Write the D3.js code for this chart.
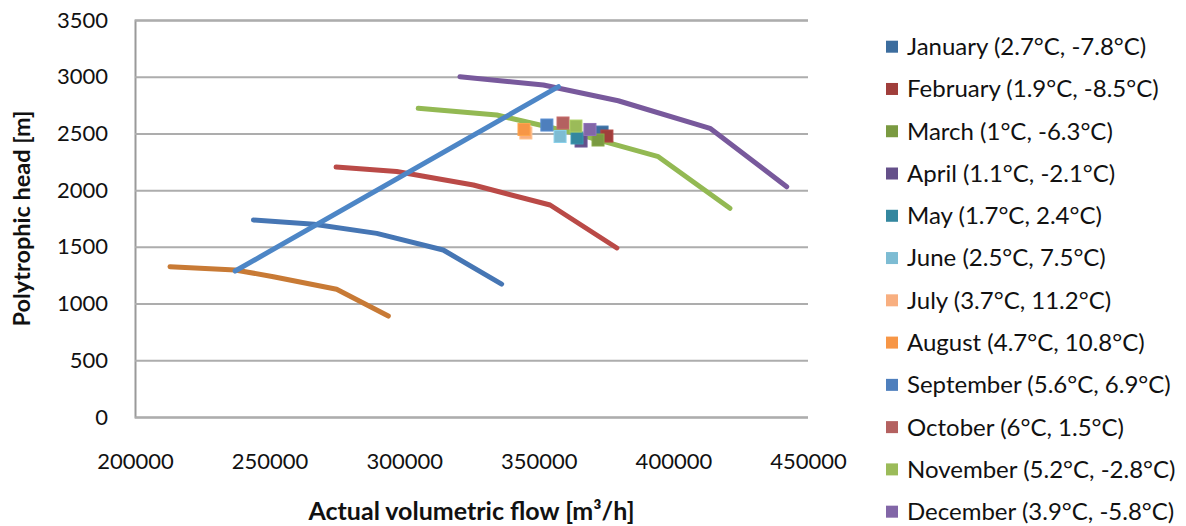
<!DOCTYPE html>
<html>
<head>
<meta charset="utf-8">
<script src="https://cdn.jsdelivr.net/npm/d3@7"></script>
<style>
  html, body { margin: 0; padding: 0; background: #fff; }
  svg { display: block; font-family: Lato, "Open Sans", sans-serif; }
</style>
</head>
<body>
<svg id="chart" width="1186" height="526"></svg>
<script>
// Monthly operating points (legend labels show ambient temperatures)
const monthLabels = [
  "January (2.7°C, -7.8°C)", "February (1.9°C, -8.5°C)", "March (1°C, -6.3°C)",
  "April (1.1°C, -2.1°C)", "May (1.7°C, 2.4°C)", "June (2.5°C, 7.5°C)",
  "July (3.7°C, 11.2°C)", "August (4.7°C, 10.8°C)", "September (5.6°C, 6.9°C)",
  "October (6°C, 1.5°C)", "November (5.2°C, -2.8°C)", "December (3.9°C, -5.8°C)"
];
const monthFlow = [373500, 375300, 372000, 365700, 364200, 357900, 345200, 344500, 353000, 359000, 363800, 369000];
const monthHead = [2512, 2477, 2442, 2433, 2460, 2473, 2504, 2535, 2574, 2592, 2565, 2535];

// Compressor characteristic curves (flow in m3/h, head in m)
const curveOrangeFlow = [213000, 237200, 251400, 274900, 294100];
const curveOrangeHead = [1325, 1296, 1237, 1126, 890];
const curveBlueFlow = [244000, 266500, 289800, 314500, 336200];
const curveBlueHead = [1737, 1700, 1619, 1472, 1172];
const curveRedFlow = [274700, 297200, 325700, 354200, 379000];
const curveRedHead = [2204, 2164, 2045, 1869, 1490];
const curveGreenFlow = [305200, 334400, 362000, 394400, 421000];
const curveGreenHead = [2721, 2662, 2510, 2295, 1840];
const curvePurpleFlow = [320700, 351700, 379500, 413600, 442100];
const curvePurpleHead = [3000, 2927, 2788, 2545, 2030];
// Surge line
const surgeFlow = [237200, 357300];
const surgeHead = [1287, 2912];

const xTicks = [200000, 250000, 300000, 350000, 400000, 450000];
const yTicks = [0, 500, 1000, 1500, 2000, 2500, 3000, 3500];

const xTitle = "Actual volumetric flow [m³/h]";
const yTitle = "Polytrophic head [m]";

// Styling
const monthColors = ["#3C6D9E", "#A03E3B", "#7A9A41", "#65508A", "#34879F", "#7DBCD3",
                     "#F8AF80", "#F79646", "#4E7FBD", "#B46160", "#9BBB59", "#8266A7"];
const curves = [
  { flow: curveOrangeFlow, head: curveOrangeHead, color: "#C87A35" },
  { flow: curveBlueFlow, head: curveBlueHead, color: "#4676B4" },
  { flow: curveRedFlow, head: curveRedHead, color: "#BA4A47" },
  { flow: curveGreenFlow, head: curveGreenHead, color: "#93B953" },
  { flow: curvePurpleFlow, head: curvePurpleHead, color: "#78599C" },
  { flow: surgeFlow, head: surgeHead, color: "#4D86C6" }
];

const svg = d3.select("#chart");
const plot = { left: 135, right: 808, top: 20, bottom: 417 };

const x = d3.scaleLinear().domain([200000, 450000]).range([plot.left, plot.right]);
const y = d3.scaleLinear().domain([0, 3500]).range([plot.bottom, plot.top]);

// Y axis with horizontal gridlines
const yAxis = svg.append("g")
  .attr("transform", `translate(${plot.left},0)`)
  .call(d3.axisLeft(y).tickValues(yTicks).tickSize(-(plot.right - plot.left)).tickPadding(27).tickFormat(d3.format("d")));
yAxis.selectAll(".tick line").attr("stroke", "#ADADAD").attr("stroke-width", 2);
yAxis.select(".domain").attr("stroke", "#9A9A9A").attr("stroke-width", 2);
yAxis.selectAll("text").attr("font-size", 22).attr("fill", "#111").attr("font-family", "Lato, sans-serif");

// X axis labels
const xAxis = svg.append("g")
  .attr("transform", `translate(0,${plot.bottom})`)
  .call(d3.axisBottom(x).tickValues(xTicks).tickSize(0).tickPadding(36).tickFormat(d3.format("d")));
xAxis.select(".domain").remove();
xAxis.selectAll("text").attr("font-size", 22).attr("fill", "#111").attr("font-family", "Lato, sans-serif");

// Curves
const line = d3.line().x(d => x(d[0])).y(d => y(d[1]));
svg.append("g").selectAll("path")
  .data(curves)
  .join("path")
  .attr("d", c => line(c.flow.map((f, i) => [f, c.head[i]])))
  .attr("fill", "none")
  .attr("stroke", c => c.color)
  .attr("stroke-width", 5)
  .attr("stroke-linecap", "round")
  .attr("stroke-linejoin", "round");

// Monthly markers
const ms = 12;
svg.append("g").selectAll("rect")
  .data(monthFlow.map((f, i) => ({ f, h: monthHead[i], c: monthColors[i] })))
  .join("rect")
  .attr("x", d => x(d.f) - ms / 2)
  .attr("y", d => y(d.h) - ms / 2)
  .attr("width", ms)
  .attr("height", ms)
  .attr("fill", d => d.c)
  .attr("stroke", d => d3.color(d.c).brighter(0.3))
  .attr("stroke-width", 1);

// Legend
const legend = svg.append("g");
const lg = legend.selectAll("g")
  .data(monthLabels)
  .join("g")
  .attr("transform", (d, i) => `translate(886,${46.7 + i * 42.27})`);
lg.append("rect")
  .attr("x", 0).attr("y", -6).attr("width", 12).attr("height", 12)
  .attr("fill", (d, i) => monthColors[i]);
lg.append("text")
  .attr("x", 21).attr("y", 0).attr("dy", "0.35em")
  .attr("font-size", 24).attr("fill", "#111")
  .text(d => d);

// Axis titles
svg.append("text")
  .attr("x", (plot.left + plot.right) / 2).attr("y", 520)
  .attr("text-anchor", "middle").attr("font-size", 25).attr("font-weight", "bold").attr("fill", "#111")
  .text(xTitle);
svg.append("text")
  .attr("transform", `translate(30,${(plot.top + plot.bottom) / 2}) rotate(-90)`)
  .attr("text-anchor", "middle").attr("font-size", 23.5).attr("font-weight", "bold").attr("fill", "#111")
  .text(yTitle);
</script>
</body>
</html>
